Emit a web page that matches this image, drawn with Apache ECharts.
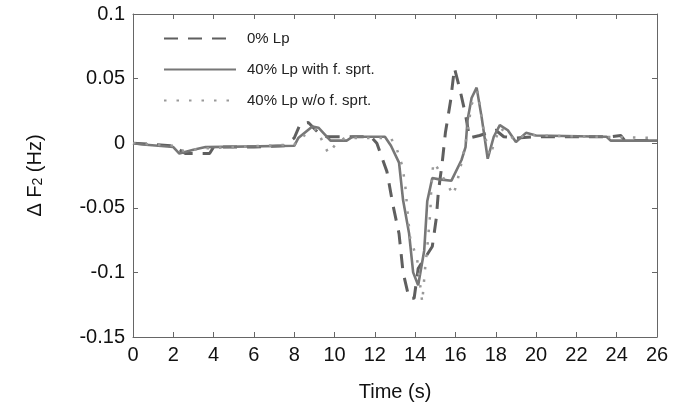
<!DOCTYPE html>
<html>
<head>
<meta charset="utf-8">
<script src="https://cdn.jsdelivr.net/npm/echarts@6/dist/echarts.min.js"></script>
<style>html,body{margin:0;padding:0;background:#fff}#c{width:689px;height:409px}</style>
</head>
<body>
<div id="c"></div>
<script>
var seriesNames = ['0% Lp', '40% Lp with f. sprt.', '40% Lp w/o f. sprt.'];
var xTicks = [0, 2, 4, 6, 8, 10, 12, 14, 16, 18, 20, 22, 24, 26];
var yTicks = [-0.15, -0.1, -0.05, 0, 0.05, 0.1];

var lp0 = [[0,0],[1,-0.001],[2,-0.002],[2.6,-0.008],[3.8,-0.008],[4,-0.003],[6,-0.003],[7.5,-0.002],[8,0.004],[8.3,0.015],[8.7,0.016],[9.2,0.008],[9.6,0.005],[11.8,0.005],[12.1,0],[12.6,-0.022],[12.9,-0.048],[13.2,-0.07],[13.4,-0.1],[13.7,-0.12],[13.95,-0.12],[14.15,-0.097],[14.85,-0.08],[15.05,-0.058],[15.15,-0.038],[15.35,-0.014],[15.5,0.008],[15.75,0.032],[15.95,0.058],[16.2,0.043],[16.5,0.022],[16.7,0.004],[17.2,0.006],[18,0.01],[18.4,0.005],[19,0.004],[20,0.005],[23.7,0.005],[24.2,0.006],[24.4,0.002],[26,0.002]];

var lp40With = [[0,0],[0.5,-0.001],[2,-0.003],[2.3,-0.008],[3,-0.005],[3.6,-0.003],[8,-0.002],[8.2,0.004],[8.9,0.013],[9.2,0.012],[9.8,0.002],[10.6,0.002],[10.9,0.005],[12.5,0.005],[12.8,-0.002],[13.2,-0.015],[13.4,-0.044],[13.7,-0.07],[13.9,-0.1],[14.15,-0.11],[14.45,-0.083],[14.6,-0.045],[14.85,-0.027],[15.2,-0.028],[15.8,-0.029],[16.3,-0.013],[16.5,-0.003],[16.6,0.018],[16.8,0.035],[17.05,0.043],[17.3,0.02],[17.6,-0.012],[17.9,0.005],[18.2,0.014],[18.6,0.01],[19,0.001],[19.5,0.008],[20,0.006],[23.5,0.005],[23.7,0.002],[26,0.002]];

var lp40Without = [[0,0],[2,-0.002],[2.5,-0.006],[3.5,-0.004],[8,-0.001],[8.5,0.006],[9.1,0.011],[9.7,-0.008],[10.1,0],[10.5,0.004],[12.8,0.004],[13.1,-0.005],[13.35,-0.017],[13.5,-0.031],[13.65,-0.058],[13.75,-0.073],[14.1,-0.09],[14.35,-0.123],[14.5,-0.096],[14.6,-0.081],[14.75,-0.054],[14.8,-0.035],[14.9,-0.015],[15.1,-0.019],[15.9,-0.04],[16.1,-0.029],[16.3,-0.015],[16.5,0.0],[16.8,0.03],[17.1,0.04],[17.4,0.01],[17.7,-0.01],[18.2,0.012],[19,0.002],[19.5,0.007],[20,0.006],[26,0.004]];

var chart = echarts.init(document.getElementById('c'));
var font = 'Liberation Sans, Arial, Helvetica, sans-serif';
var axisLineC = '#666';
function baseX(show) {
  return {
    type: 'value', min: xTicks[0], max: xTicks[xTicks.length-1], interval: 2,
    axisLine: {show: true, onZero: false, lineStyle: {color: axisLineC, width: 1}},
    axisTick: {show: true, inside: true, length: 5, lineStyle: {color: axisLineC}},
    axisLabel: {show: show, color: '#111', fontSize: 20, fontFamily: font, margin: 8},
    splitLine: {show: false}
  };
}
function baseY(show) {
  return {
    type: 'value', min: yTicks[0], max: yTicks[yTicks.length-1], interval: 0.05,
    axisLine: {show: true, onZero: false, lineStyle: {color: axisLineC, width: 1}},
    axisTick: {show: true, inside: true, length: 5, lineStyle: {color: axisLineC}},
    axisLabel: {show: show, color: '#111', fontSize: 20, fontFamily: font, margin: 8},
    splitLine: {show: false}
  };
}
var xb = baseX(true);
xb.name = 'Time (s)'; xb.nameLocation = 'middle'; xb.nameGap = 45;
xb.nameTextStyle = {color: '#111', fontSize: 20, fontFamily: font};
var xt = baseX(false); xt.position = 'top';
var yl = baseY(true);
yl.name = '{a|Δ F}{s|2}{a| (Hz)}'; yl.nameLocation = 'middle'; yl.nameGap = 88;
yl.nameTextStyle = {color: '#111', fontSize: 20, fontFamily: font,
  rich: {a: {fontSize: 20, fontFamily: font, color: '#111', verticalAlign: 'bottom', lineHeight: 28},
         s: {fontSize: 14, fontFamily: font, color: '#111', verticalAlign: 'bottom', lineHeight: 20}}};
var yr = baseY(false); yr.position = 'right';

chart.setOption({
  animation: false,
  backgroundColor: '#fff',
  grid: {left: 133, right: 32, top: 14, bottom: 72},
  legend: {
    orient: 'vertical', left: 158, top: 26, itemWidth: 72, itemHeight: 14, itemGap: 16,
    itemStyle: {opacity: 0},
    textStyle: {color: '#222', fontSize: 15, fontFamily: font, padding: [0,0,0,6]},
    data: seriesNames
  },
  xAxis: [xb, xt],
  yAxis: [yl, yr],
  series: [
    {name: seriesNames[0], type: 'line', data: lp0, symbol: 'none', xAxisIndex: 0, yAxisIndex: 0,
     lineStyle: {color: '#5f5f5f', width: 3, type: [14, 10]}, itemStyle: {color: '#5f5f5f'}},
    {name: seriesNames[1], type: 'line', data: lp40With, symbol: 'none', xAxisIndex: 0, yAxisIndex: 0,
     lineStyle: {color: '#777', width: 2.6, type: 'solid'}, itemStyle: {color: '#777'}},
    {name: seriesNames[2], type: 'line', data: lp40Without, symbol: 'none', xAxisIndex: 0, yAxisIndex: 0,
     lineStyle: {color: '#999', width: 2.5, type: [2.5, 10]}, itemStyle: {color: '#999'}}
  ]
});
</script>
</body>
</html>
